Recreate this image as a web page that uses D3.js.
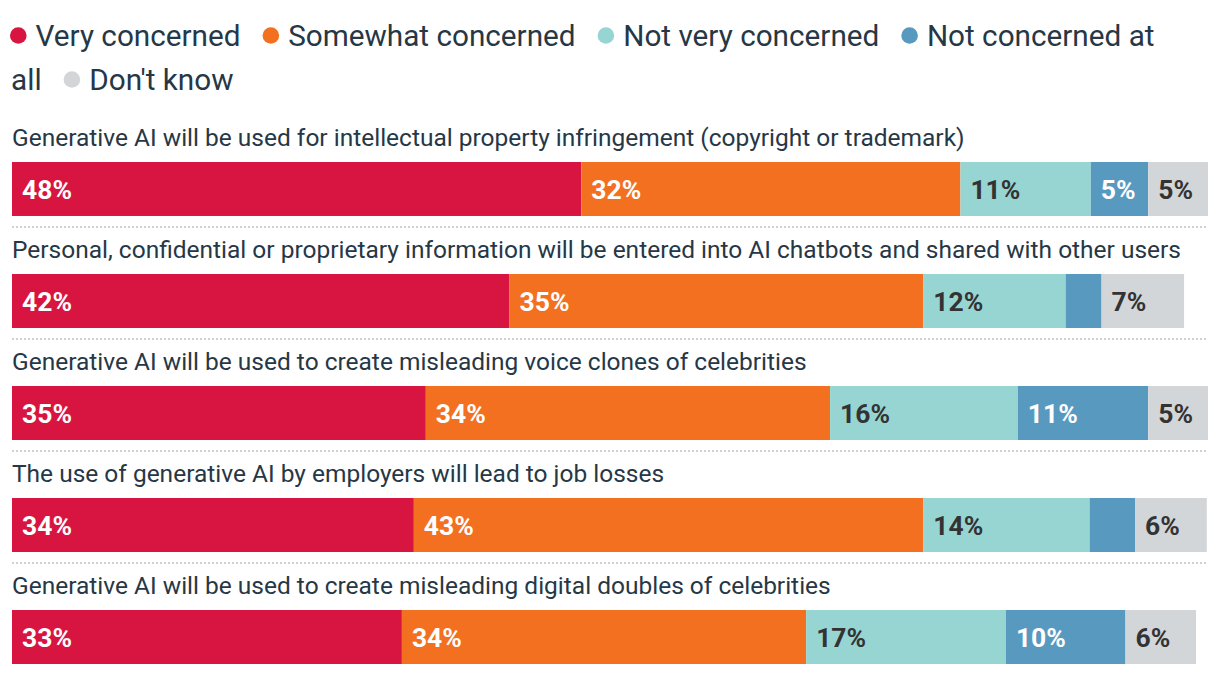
<!DOCTYPE html>
<html>
<head>
<meta charset="utf-8">
<script src="https://cdn.jsdelivr.net/npm/d3@7"></script>
<style>
  html, body { margin: 0; padding: 0; background: #ffffff; }
  svg { display: block; }
</style>
</head>
<body>
<svg id="chart" width="1220" height="678"></svg>
<script>
// ---------- DATA ----------
const categories = [
  "Generative AI will be used for intellectual property infringement (copyright or trademark)",
  "Personal, confidential or proprietary information will be entered into AI chatbots and shared with other users",
  "Generative AI will be used to create misleading voice clones of celebrities",
  "The use of generative AI by employers will lead to job losses",
  "Generative AI will be used to create misleading digital doubles of celebrities"
];
const seriesNames = ["Very concerned", "Somewhat concerned", "Not very concerned", "Not concerned at all", "Don't know"];
const veryConcerned      = [47.6, 41.6, 34.6, 33.6, 32.6];
const somewhatConcerned  = [31.7, 34.6, 33.8, 42.6, 33.8];
const notVeryConcerned   = [10.9, 11.9, 15.7, 13.9, 16.7];
const notConcernedAtAll  = [4.8, 3.0, 10.9, 3.8, 10.0];
const dontKnow           = [5.0, 6.9, 5.0, 6.0, 5.9];
const seriesValues = [veryConcerned, somewhatConcerned, notVeryConcerned, notConcernedAtAll, dontKnow];
const seriesColors = ["#d81540", "#f37021", "#97d5d2", "#5899c0", "#d3d6d9"];
const labelColors  = ["#ffffff", "#ffffff", "#333333", "#ffffff", "#333333"];

// ---------- SETUP ----------
const FONT = "Roboto, 'Noto Sans', 'DejaVu Sans', sans-serif";
const svg = d3.select("#chart");

const x = d3.scaleLinear().domain([0, 100]).range([12, 1208]);
const y = d3.scaleBand().domain(categories).range([162, 664]).paddingInner(0.518).paddingOuter(0);

function measure(txt, size, weight) {
  const t = svg.append("text").attr("font-family", FONT).attr("font-size", size)
    .attr("font-weight", weight || 400).text(txt);
  const w = t.node().getComputedTextLength();
  t.remove();
  return w;
}

// Fit font sizes to reference text widths
const catSize = 23 * 953 / measure(categories[0], 23);
const legSize = 29 * 205 / measure("Very concerned", 29);
const valSize = 22 * 50 / measure("48%", 22, 700);

// ---------- LEGEND (flowing, wrapping) ----------
const legend = svg.append("g").attr("class", "legend");
const legendLeft = 10, legendRight = 1180, lineH = 44, firstBaseline = 46;
const r = 8.3, circleGap = 9, itemGap = 22;
const spaceW = measure("a a", legSize) - measure("aa", legSize);
let cx = legendLeft, line = 0;
seriesNames.forEach((name, i) => {
  const words = name.split(" ");
  const firstW = measure(words[0], legSize);
  const needed = 2 * r + circleGap + firstW;
  if (cx + needed > legendRight && cx > legendLeft) { cx = legendLeft; line++; }
  const base = firstBaseline + line * lineH;
  legend.append("circle").attr("cx", cx + r).attr("cy", base - 10.5).attr("r", r)
    .attr("fill", seriesColors[i]);
  cx += 2 * r + circleGap;
  words.forEach((wd, k) => {
    const ww = measure(wd, legSize);
    if (k > 0) {
      if (cx + spaceW + ww > legendRight) { cx = legendLeft + 1; line++; }
      else cx += spaceW;
    }
    legend.append("text").attr("x", cx).attr("y", firstBaseline + line * lineH)
      .attr("font-family", FONT).attr("font-size", legSize).attr("fill", "#263746")
      .text(wd);
    cx += ww;
  });
  cx += itemGap;
});

// ---------- ROWS ----------
const stackData = categories.map((c, ci) => {
  let acc = 0;
  return seriesValues.map((vals, si) => {
    const d = { cat: c, series: si, value: vals[ci], x0: acc, x1: acc + vals[ci] };
    acc += vals[ci];
    return d;
  });
});

const rows = svg.append("g").selectAll("g.row").data(categories).join("g").attr("class", "row");

rows.append("text")
  .attr("x", 12)
  .attr("y", d => y(d) - 16)
  .attr("font-family", FONT).attr("font-size", catSize).attr("fill", "#263746")
  .text(d => d);

rows.filter((d, i) => i < categories.length - 1).append("line")
  .attr("x1", 12).attr("x2", 1208)
  .attr("y1", d => y(d) + y.bandwidth() + 11)
  .attr("y2", d => y(d) + y.bandwidth() + 11)
  .attr("stroke", "#d0d0d0").attr("stroke-width", 2).attr("stroke-dasharray", "2,2");

const segs = rows.selectAll("g.seg").data((d, i) => stackData[i]).join("g").attr("class", "seg");

segs.append("rect")
  .attr("x", d => x(d.x0))
  .attr("y", d => y(d.cat))
  .attr("width", d => x(d.x1) - x(d.x0))
  .attr("height", y.bandwidth())
  .attr("fill", d => seriesColors[d.series]);

segs.filter(d => d.value >= 4.5).append("text")
  .attr("x", d => x(d.x0) + 10)
  .attr("y", d => y(d.cat) + y.bandwidth() / 2)
  .attr("dy", "0.36em")
  .attr("font-family", FONT).attr("font-size", valSize).attr("font-weight", 700)
  .attr("fill", d => labelColors[d.series])
  .text(d => Math.round(d.value) + "%");
</script>
</body>
</html>
